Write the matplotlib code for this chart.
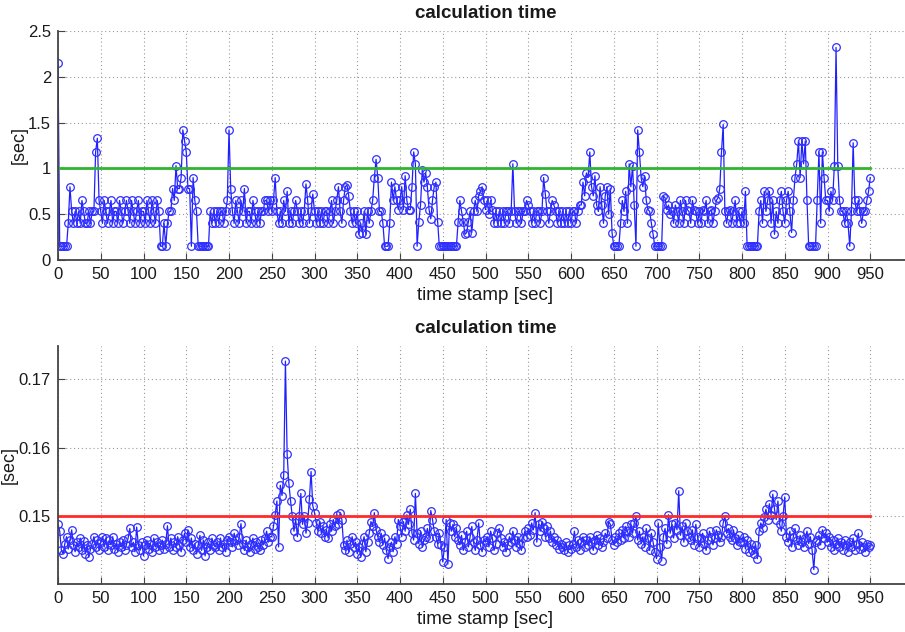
import numpy as np
import matplotlib.pyplot as plt

# time stamps [sec], one sample every 2 s
time_stamp = np.arange(0, 951, 2)

# upper plot: calculation time [sec]
calc_time_a = [
    2.15, 0.15, 0.15, 0.15, 0.15, 0.15, 0.4, 0.8, 0.53, 0.4, 0.53, 0.4, 0.53, 0.4, 0.65, 0.53, 0.4, 0.4, 0.53, 0.4, 0.53, 0.53, 1.18, 1.33, 0.65,
    0.53, 0.4, 0.65, 0.53, 0.4, 0.53, 0.65, 0.4, 0.53, 0.53, 0.4, 0.65, 0.53, 0.4, 0.53, 0.65, 0.53, 0.4, 0.65, 0.53, 0.4, 0.53, 0.65, 0.4, 0.53,
    0.53, 0.4, 0.65, 0.53, 0.4, 0.65, 0.53, 0.4, 0.65, 0.53, 0.15, 0.15, 0.4, 0.15, 0.4, 0.53, 0.53, 0.78, 0.65, 1.03, 0.78, 0.78, 0.9, 1.42, 1.3,
    1.18, 0.78, 0.78, 0.15, 0.9, 0.65, 0.53, 0.15, 0.15, 0.15, 0.15, 0.15, 0.15, 0.15, 0.53, 0.4, 0.53, 0.4, 0.53, 0.4, 0.53, 0.53, 0.4, 0.53, 0.65,
    1.42, 0.78, 0.53, 0.4, 0.65, 0.53, 0.4, 0.65, 0.53, 0.78, 0.4, 0.53, 0.53, 0.4, 0.65, 0.53, 0.4, 0.53, 0.4, 0.53, 0.53, 0.65, 0.65, 0.53, 0.65,
    0.53, 0.65, 0.9, 0.53, 0.4, 0.53, 0.4, 0.65, 0.53, 0.75, 0.4, 0.53, 0.4, 0.53, 0.65, 0.53, 0.4, 0.53, 0.4, 0.53, 0.83, 0.65, 0.4, 0.53, 0.72,
    0.53, 0.4, 0.53, 0.4, 0.53, 0.4, 0.53, 0.53, 0.4, 0.53, 0.65, 0.4, 0.53, 0.65, 0.8, 0.53, 0.4, 0.65, 0.8, 0.82, 0.7, 0.53, 0.4, 0.53, 0.4,
    0.53, 0.28, 0.4, 0.3, 0.53, 0.28, 0.53, 0.4, 0.53, 0.65, 0.9, 1.1, 0.9, 0.53, 0.53, 0.4, 0.15, 0.15, 0.15, 0.4, 0.85, 0.65, 0.8, 0.65, 0.55,
    0.65, 0.8, 0.55, 0.92, 0.65, 0.55, 0.55, 0.8, 1.18, 1.05, 0.15, 0.42, 0.6, 0.98, 0.85, 0.95, 0.8, 0.55, 0.45, 0.65, 0.8, 0.85, 0.42, 0.15, 0.15,
    0.15, 0.15, 0.15, 0.15, 0.15, 0.15, 0.15, 0.15, 0.15, 0.42, 0.65, 0.53, 0.42, 0.28, 0.3, 0.42, 0.53, 0.3, 0.53, 0.65, 0.53, 0.7, 0.75, 0.8, 0.65,
    0.55, 0.65, 0.5, 0.65, 0.55, 0.4, 0.53, 0.4, 0.53, 0.4, 0.53, 0.4, 0.53, 0.53, 0.4, 0.53, 1.05, 0.53, 0.4, 0.53, 0.53, 0.4, 0.53, 0.53, 0.65,
    0.6, 0.53, 0.4, 0.53, 0.4, 0.53, 0.53, 0.4, 0.53, 0.9, 0.72, 0.53, 0.4, 0.53, 0.65, 0.6, 0.53, 0.4, 0.53, 0.4, 0.53, 0.4, 0.53, 0.4, 0.53,
    0.4, 0.53, 0.53, 0.4, 0.53, 0.6, 0.6, 0.85, 0.7, 0.95, 0.9, 1.18, 0.8, 0.7, 0.92, 0.6, 0.53, 0.8, 0.6, 0.4, 0.7, 0.8, 0.5, 0.78, 0.3,
    0.15, 0.15, 0.15, 0.15, 0.4, 0.65, 0.53, 0.75, 0.4, 1.05, 0.8, 1.03, 0.6, 0.15, 1.42, 1.18, 0.9, 0.8, 0.92, 0.65, 0.55, 0.53, 0.4, 0.28, 0.15,
    0.15, 0.15, 0.15, 0.15, 0.7, 0.68, 0.55, 0.6, 0.5, 0.53, 0.4, 0.6, 0.53, 0.4, 0.65, 0.53, 0.4, 0.65, 0.55, 0.53, 0.4, 0.65, 0.55, 0.53, 0.4,
    0.53, 0.4, 0.55, 0.53, 0.65, 0.4, 0.53, 0.55, 0.4, 0.53, 0.65, 0.68, 0.78, 1.18, 1.48, 0.53, 0.4, 0.53, 0.55, 0.4, 0.53, 0.65, 0.4, 0.53, 0.4,
    0.53, 0.4, 0.75, 0.15, 0.15, 0.15, 0.15, 0.15, 0.15, 0.15, 0.53, 0.65, 0.4, 0.75, 0.53, 0.65, 0.75, 0.4, 0.65, 0.28, 0.53, 0.4, 0.65, 0.75, 0.53,
    0.4, 0.65, 0.75, 0.53, 0.3, 0.65, 0.9, 1.05, 1.3, 0.9, 1.3, 1.05, 1.3, 0.65, 0.15, 0.15, 0.15, 0.15, 0.15, 0.65, 1.18, 0.4, 1.18, 0.9, 0.65,
    0.65, 0.53, 0.75, 0.65, 1.03, 2.32, 1.03, 0.65, 0.53, 0.53, 0.4, 0.53, 0.4, 0.15, 0.53, 1.28, 0.65, 0.53, 0.65, 0.53, 0.4, 0.53, 0.53, 0.65, 0.75,
    0.9,
]

# lower plot: calculation time [sec]
calc_time_b = [
    0.1488, 0.1478, 0.1450, 0.1445, 0.1460, 0.1470, 0.1452, 0.1465, 0.1480, 0.1458, 0.1448, 0.1462, 0.1455, 0.1468, 0.1450, 0.1463, 0.1445, 0.1458, 0.1440, 0.1452, 0.1460, 0.1470, 0.1455, 0.1465, 0.1450,
    0.1462, 0.1470, 0.1455, 0.1468, 0.1450, 0.1465, 0.1458, 0.1470, 0.1452, 0.1460, 0.1448, 0.1462, 0.1455, 0.1465, 0.1450, 0.1458, 0.1468, 0.1482, 0.1455, 0.1462, 0.1448, 0.1484, 0.1458, 0.1450, 0.1462,
    0.1442, 0.1458, 0.1465, 0.1452, 0.1460, 0.1448, 0.1468, 0.1455, 0.1462, 0.1450, 0.1458, 0.1465, 0.1452, 0.1460, 0.1486, 0.1455, 0.1468, 0.1450, 0.1462, 0.1455, 0.1470, 0.1458, 0.1448, 0.1465, 0.1475,
    0.1462, 0.1480, 0.1455, 0.1468, 0.1450, 0.1460, 0.1445, 0.1458, 0.1472, 0.1450, 0.1465, 0.1442, 0.1455, 0.1462, 0.1450, 0.1468, 0.1458, 0.1455, 0.1462, 0.1450, 0.1468, 0.1455, 0.1460, 0.1448, 0.1465,
    0.1470, 0.1462, 0.1455, 0.1475, 0.1465, 0.1458, 0.1470, 0.1489, 0.1460, 0.1450, 0.1465, 0.1455, 0.1448, 0.1460, 0.1468, 0.1452, 0.1462, 0.1455, 0.1450, 0.1465, 0.1458, 0.1468, 0.1478, 0.1462, 0.1470,
    0.1470, 0.1485, 0.1502, 0.1522, 0.1455, 0.1545, 0.1530, 0.1560, 0.1726, 0.1590, 0.1548, 0.1522, 0.1500, 0.1478, 0.1495, 0.1470, 0.1500, 0.1533, 0.1488, 0.1500, 0.1475, 0.1490, 0.1525, 0.1565, 0.1515,
    0.1505, 0.1490, 0.1478, 0.1492, 0.1475, 0.1485, 0.1470, 0.1480, 0.1468, 0.1488, 0.1478, 0.1495, 0.1485, 0.1502, 0.1488, 0.1505, 0.1495, 0.1458, 0.1450, 0.1465, 0.1448, 0.1460, 0.1470, 0.1455, 0.1462,
    0.1445, 0.1455, 0.1440, 0.1460, 0.1470, 0.1448, 0.1462, 0.1475, 0.1492, 0.1485, 0.1505, 0.1480, 0.1470, 0.1462, 0.1475, 0.1458, 0.1468, 0.1450, 0.1438, 0.1455, 0.1462, 0.1448, 0.1470, 0.1460, 0.1495,
    0.1485, 0.1470, 0.1492, 0.1478, 0.1502, 0.1488, 0.1510, 0.1475, 0.1465, 0.1533, 0.1475, 0.1460, 0.1478, 0.1455, 0.1465, 0.1470, 0.1482, 0.1468, 0.1508, 0.1495, 0.1478, 0.1470, 0.1460, 0.1475, 0.1458,
    0.1433, 0.1455, 0.1495, 0.1430, 0.1490, 0.1478, 0.1488, 0.1470, 0.1482, 0.1465, 0.1458, 0.1472, 0.1450, 0.1462, 0.1478, 0.1455, 0.1470, 0.1485, 0.1462, 0.1450, 0.1465, 0.1490, 0.1458, 0.1448, 0.1465,
    0.1462, 0.1470, 0.1455, 0.1478, 0.1468, 0.1450, 0.1460, 0.1475, 0.1482, 0.1468, 0.1455, 0.1462, 0.1448, 0.1458, 0.1470, 0.1462, 0.1478, 0.1465, 0.1455, 0.1470, 0.1460, 0.1450, 0.1468, 0.1478, 0.1470,
    0.1482, 0.1472, 0.1490, 0.1480, 0.1505, 0.1462, 0.1488, 0.1478, 0.1492, 0.1482, 0.1470, 0.1485, 0.1468, 0.1478, 0.1462, 0.1470, 0.1458, 0.1465, 0.1452, 0.1460, 0.1455, 0.1450, 0.1462, 0.1448, 0.1458,
    0.1452, 0.1460, 0.1478, 0.1455, 0.1465, 0.1450, 0.1462, 0.1470, 0.1455, 0.1465, 0.1458, 0.1470, 0.1462, 0.1450, 0.1465, 0.1472, 0.1458, 0.1468, 0.1455, 0.1462, 0.1475, 0.1468, 0.1492, 0.1488, 0.1465,
    0.1458, 0.1470, 0.1462, 0.1475, 0.1465, 0.1480, 0.1468, 0.1485, 0.1478, 0.1470, 0.1488, 0.1475, 0.1490, 0.1500, 0.1465, 0.1478, 0.1460, 0.1470, 0.1455, 0.1482, 0.1468, 0.1450, 0.1475, 0.1462, 0.1448,
    0.1438, 0.1490, 0.1455, 0.1435, 0.1470, 0.1482, 0.1460, 0.1502, 0.1475, 0.1488, 0.1468, 0.1490, 0.1480, 0.1537, 0.1472, 0.1485, 0.1462, 0.1490, 0.1478, 0.1470, 0.1465, 0.1480, 0.1458, 0.1488, 0.1470,
    0.1455, 0.1468, 0.1475, 0.1460, 0.1450, 0.1465, 0.1478, 0.1470, 0.1458, 0.1468, 0.1480, 0.1472, 0.1462, 0.1470, 0.1490, 0.1500, 0.1475, 0.1482, 0.1470, 0.1465, 0.1480, 0.1468, 0.1458, 0.1472, 0.1462,
    0.1462, 0.1470, 0.1452, 0.1465, 0.1448, 0.1460, 0.1450, 0.1445, 0.1458, 0.1438, 0.1478, 0.1490, 0.1482, 0.1498, 0.1510, 0.1495, 0.1518, 0.1502, 0.1532, 0.1510, 0.1495, 0.1522, 0.1488, 0.1478, 0.1500,
    0.1528, 0.1470, 0.1462, 0.1478, 0.1455, 0.1470, 0.1482, 0.1465, 0.1458, 0.1472, 0.1462, 0.1455, 0.1468, 0.1478, 0.1460, 0.1470, 0.1450, 0.1422, 0.1462, 0.1465, 0.1472, 0.1458, 0.1480, 0.1468, 0.1475,
    0.1462, 0.1470, 0.1455, 0.1465, 0.1450, 0.1460, 0.1468, 0.1455, 0.1462, 0.1450, 0.1465, 0.1458, 0.1448, 0.1462, 0.1455, 0.1468, 0.1450, 0.1460, 0.1475, 0.1452, 0.1462, 0.1455, 0.1448, 0.1460, 0.1455,
    0.1458,
]

limit_a = 1.0
limit_b = 0.15
t_end = 950

xticks = np.arange(0, 951, 50)

plt.rcParams['font.family'] = ['Liberation Sans', 'DejaVu Sans']
plt.rcParams['font.size'] = 12

W, H = 905, 632
fig = plt.figure(figsize=(W / 100, H / 100), dpi=100)

# axes placed in pixel coordinates
ax1 = fig.add_axes([58 / W, 1 - 260 / H, 855 / W, 229 / H])
ax2 = fig.add_axes([58 / W, 1 - 584 / H, 855 / W, 238 / H])


def style_axes(ax, ylabel_x):
    ax.set_xlim(0, 1000)
    ax.set_xticks(xticks)
    ax.grid(True, linestyle=(0, (1, 2.5)), color='#999999', linewidth=0.8)
    ax.spines['top'].set_visible(False)
    ax.spines['right'].set_visible(False)
    for s in ('left', 'bottom'):
        ax.spines[s].set_color('#444444')
        ax.spines[s].set_linewidth(1.3)
    ax.tick_params(direction='in', length=5, color='#444444', labelcolor='#1a1a1a',
                   labelsize=12, pad=5)
    ax.set_xlabel('time stamp [sec]', fontsize=13.5, labelpad=4, color='#1a1a1a')
    ax.set_ylabel('[sec]', fontsize=13, color='#1a1a1a')
    ax.yaxis.set_label_coords(ylabel_x, 0.5)
    ax.set_title('calculation time', fontweight='bold', fontsize=13.5, pad=9.5,
                 color='#1a1a1a')


line_kw = dict(color='#2020ff', linewidth=0.9, marker='o', markersize=5.5,
               markerfacecolor='none', markeredgecolor='#3030ff', markeredgewidth=0.9)

ax1.plot(time_stamp, calc_time_a, **line_kw)
ax1.plot([0, t_end], [limit_a, limit_a], color='#2fb52f', linewidth=2)
ax1.set_ylim(0, 2.5)
ax1.set_yticks([0, 0.5, 1, 1.5, 2, 2.5])
ax1.set_yticklabels(['0', '0.5', '1', '1.5', '2', '2.5'])
style_axes(ax1, -0.035)

ax2.plot(time_stamp, calc_time_b, **line_kw)
ax2.plot([0, t_end], [limit_b, limit_b], color='#ff2a2a', linewidth=2)
ax2.set_ylim(0.1401, 0.1748)
ax2.set_yticks([0.15, 0.16, 0.17])
ax2.set_yticklabels(['0.15', '0.16', '0.17'])
style_axes(ax2, -0.047)

fig.savefig('out.png', dpi=100)
